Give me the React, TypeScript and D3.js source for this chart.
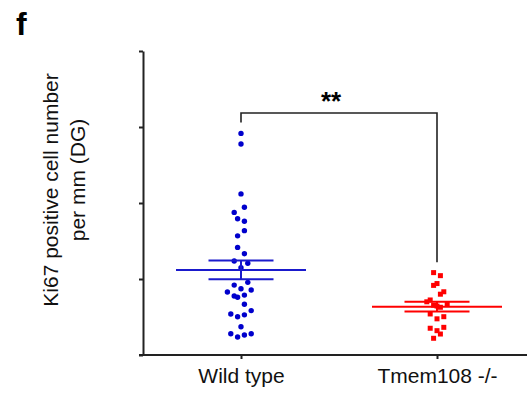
import React, { useEffect, useRef } from 'react';
import * as d3 from 'd3';

// groups on the x axis
const groups = ['Wild type', 'Tmem108 -/-'];

// Ki67 positive cells per mm (y axis has no labels, 0..100 assumed)
const wildValues = [72.9, 69.4, 53.0, 48.6, 46.9, 44.8, 44.0, 40.9, 39.2, 35.4, 33.3, 30.9, 30.2, 28.7,
	23.9, 23.0, 21.8, 20.7, 21.4, 19.4, 19.0, 19.7, 16.7, 13.5, 12.6, 13.2, 14.6, 9.3, 7.0, 5.9, 6.6, 7.0];
// horizontal slot of each dot (scatter jitter)
const wildSlots = [0, 0, 0, 1, -2, -1, 1, 1, -1, -1, 1, -2, 2, 0, 2, -2, 0, -4, 3, -2, -1, 1, 1, -3, -1, 1, 3, 0, -3, -1, 1, 3];

const koValues = [27.1, 26.1, 22.9, 23.5, 20.8, 20.0, 17.5, 18.1, 16.8, 16.4, 15.7, 16.1, 13.5, 12.6,
	11.9, 8.8, 9.1, 8.0, 6.9, 5.5];
const koSlots = [-1, 1, -1, 0, 2, 1, -3, -2, 3, -1, 1, 0, -2, 2, 0, -2, 2, 0, 1, -1];

// mean and SEM of each group
const means = [28.0, 15.9];
const sems = [3.05, 1.6];

const yTicks = [0, 25, 50, 75, 100];

const W = 527;
const H = 394;

const App = () => {
	const ref = useRef<SVGSVGElement>(null);

	useEffect(() => {
		const svg = d3.select(ref.current);
		svg.selectAll('*').remove();

		const x = d3.scalePoint().domain(groups).range([143, 535]).padding(0.5);
		const y = d3.scaleLinear().domain([0, 100]).range([355, 51]);
		const slot = d3.scaleLinear().domain([0, 1]).range([0, 3.4]);

		const axisColor = '#222';

		// y axis
		const gy = svg.append('g').attr('transform', 'translate(143,0)')
			.call(d3.axisLeft(y).tickValues(yTicks).tickSize(4).tickSizeOuter(0).tickFormat(() => ''));
		gy.selectAll('path,line').attr('stroke', axisColor).attr('stroke-width', 2);

		// x axis
		const gx = svg.append('g').attr('transform', 'translate(0,355)')
			.call(d3.axisBottom(x).tickSize(4).tickSizeOuter(0));
		gx.select('.domain').attr('d', 'M139,0H540');
		gx.selectAll('path,line').attr('stroke', axisColor).attr('stroke-width', 2);
		gx.selectAll('text')
			.attr('y', 28).attr('dy', 0)
			.attr('fill', '#111')
			.style('font-family', '"Liberation Sans", Arial, sans-serif')
			.style('font-size', '21px');

		// dots
		const wx = x(groups[0]) as number;
		const kx = x(groups[1]) as number;
		const blue = '#0000cc';
		const red = '#ff0000';

		svg.append('g').selectAll('circle')
			.data(wildValues)
			.enter()
			.append('circle')
			.attr('cx', (d, i) => wx + slot(wildSlots[i]))
			.attr('cy', d => y(d))
			.attr('r', 2.7)
			.attr('fill', blue);

		const sq = 5;
		svg.append('g').selectAll('rect')
			.data(koValues)
			.enter()
			.append('rect')
			.attr('x', (d, i) => kx + slot(koSlots[i]) - sq / 2)
			.attr('y', d => y(d) - sq / 2)
			.attr('width', sq)
			.attr('height', sq)
			.attr('fill', red);

		// mean +- SEM
		const colors = ['#1a1acc', red];
		groups.forEach((g, i) => {
			const cx = x(g) as number;
			const eb = svg.append('g').attr('stroke', colors[i]).attr('stroke-width', 2);
			eb.append('line').attr('x1', cx - 65).attr('x2', cx + 65).attr('y1', y(means[i])).attr('y2', y(means[i]));
			eb.append('line').attr('x1', cx - 32.5).attr('x2', cx + 32.5)
				.attr('y1', y(means[i] + sems[i])).attr('y2', y(means[i] + sems[i]));
			eb.append('line').attr('x1', cx - 32.5).attr('x2', cx + 32.5)
				.attr('y1', y(means[i] - sems[i])).attr('y2', y(means[i] - sems[i]));
			eb.append('line').attr('x1', cx).attr('x2', cx)
				.attr('y1', y(means[i] + sems[i])).attr('y2', y(means[i] - sems[i]));
		});

		// significance bracket
		const top = y(79.6);
		svg.append('path')
			.attr('d', `M${wx},${y(76.5)}V${top}H${kx}V${y(30.5)}`)
			.attr('fill', 'none')
			.attr('stroke', axisColor)
			.attr('stroke-width', 1.6);
		svg.append('text')
			.text('**')
			.attr('x', (wx + kx) / 2 - 8)
			.attr('y', 110)
			.attr('text-anchor', 'middle')
			.style('font-family', '"Liberation Sans", Arial, sans-serif')
			.style('font-size', '26px')
			.style('font-weight', 'bold');

		// y label
		const lab = svg.append('g')
			.style('font-family', '"Liberation Sans", Arial, sans-serif')
			.style('font-size', '21px')
			.attr('fill', '#111')
			.attr('text-anchor', 'middle');
		lab.append('text').text('Ki67 positive cell number')
			.attr('transform', 'translate(58,190) rotate(-90)');
		lab.append('text').text('per mm (DG)')
			.attr('transform', 'translate(85,180) rotate(-90)');

		// panel letter
		svg.append('text')
			.text('f')
			.attr('x', 16)
			.attr('y', 35)
			.style('font-family', '"Liberation Sans", Arial, sans-serif')
			.style('font-size', '32px')
			.style('font-weight', 'bold');
	}, []);

	return (
		<svg ref={ref} width={W} height={H}
			style={{ position: 'absolute', left: 0, top: 0, background: '#fff' }} />
	);
};

export default App;
